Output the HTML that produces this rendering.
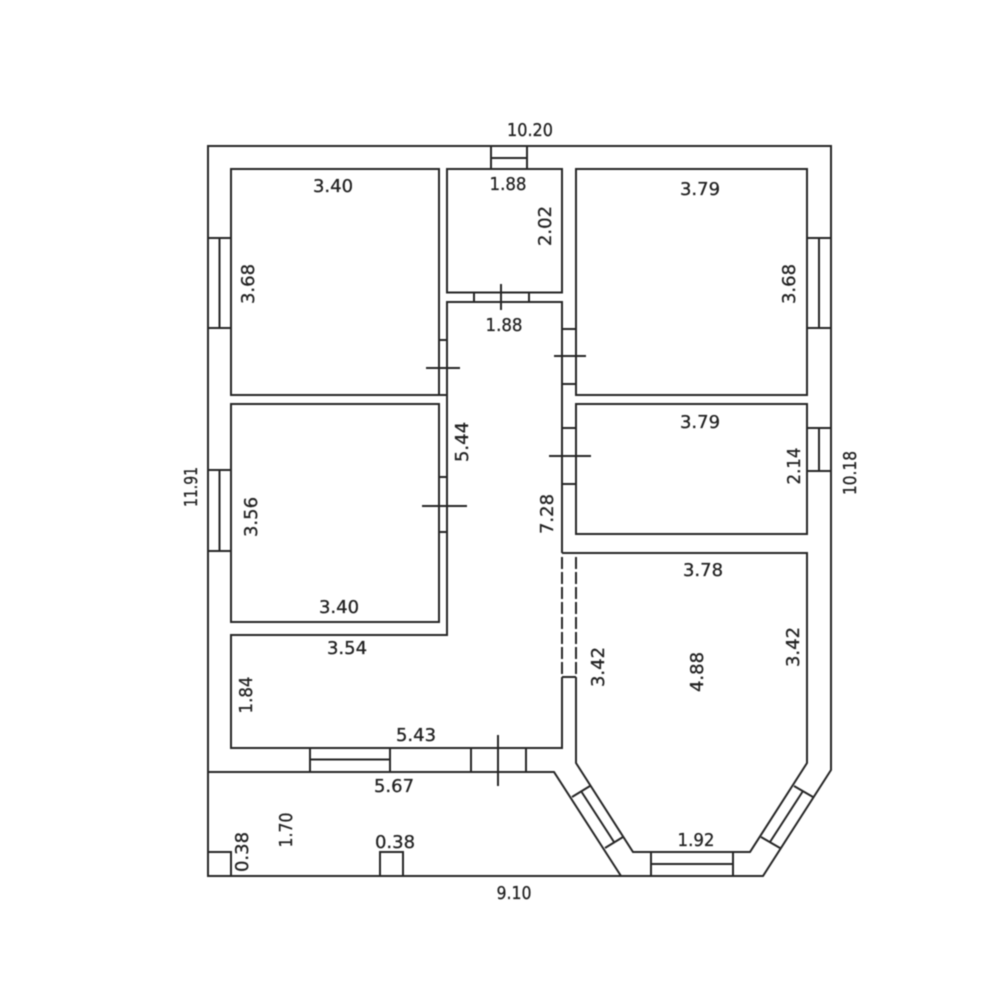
<!DOCTYPE html>
<html>
<head>
<meta charset="utf-8">
<style>
html,body{margin:0;padding:0;background:#fff;width:1000px;height:1000px;overflow:hidden}
svg{display:block;filter:blur(.4px)}
.l{fill:none;stroke:#262626;stroke-width:2}
.t{font-family:"DejaVu Sans",sans-serif;font-size:18px;fill:#222;stroke:#222;stroke-width:.3;text-anchor:middle}
</style>
</head>
<body>
<svg width="1000" height="1000" viewBox="0 0 1000 1000" xmlns="http://www.w3.org/2000/svg">
<g class="l">
<!-- outer -->
<path d="M621 876H208V146H831V770L763 876H621"/>
<path d="M208 772H554L621 876"/>
<!-- rooms -->
<rect x="231" y="169" width="208" height="226"/>
<rect x="447" y="169" width="115" height="123.500"/>
<rect x="576" y="169" width="231" height="226"/>
<rect x="231" y="404" width="208" height="218"/>
<rect x="576" y="404" width="231" height="130"/>
<path d="M439 395H447"/>
<!-- corridor -->
<path d="M562 553V302H447V635H231V748H562V677"/>
<path d="M562 553H807V763L750 852H633L576 763V677"/>
<path d="M562 557V677M576 557V677" stroke-dasharray="12 3"/>
<path d="M562 677H576"/>
<!-- windows -->
<path d="M491 146V169M527 146V169M491 158H527"/>
<path d="M208 238H231M208 328H231M219.500 238V328"/>
<path d="M807 238H831M807 328H831M819 238V328"/>
<path d="M807 428H831M807 471H831M819 428V471"/>
<path d="M208 470H231M208 551H231M219.500 470V551"/>
<path d="M310 748V771M390 748V771M310 759.500H390"/>
<path d="M651 852V876M733 852V876M651 864H733"/>
<path d="M572 797L590 786M605 848L623 837M581 791L614 842"/>
<path d="M794 786L813 797M761 837L780 848M803 791L770 842"/>
<!-- doors -->
<path d="M471 748V771M526 748V771M498 735V786"/>
<path d="M474 292V302M529 292V302M501 284V310"/>
<path d="M439 340H447M426 368H460"/>
<path d="M439 477H447M439 532H447M422 506H467"/>
<path d="M562 329H576M562 384H576M554 356H586"/>
<path d="M562 428H576M562 484H576M549 456H591"/>
<!-- small squares -->
<path d="M208 852H231V876"/>
<path d="M380 876V852H403V876"/>
</g>
<g class="t">
<text x="530" y="136" textLength="46" lengthAdjust="spacingAndGlyphs">10.20</text>
<text x="333" y="192">3.40</text>
<text x="508" y="190" textLength="37" lengthAdjust="spacingAndGlyphs">1.88</text>
<text x="700" y="195">3.79</text>
<text x="504" y="331" textLength="37" lengthAdjust="spacingAndGlyphs">1.88</text>
<text x="700" y="428">3.79</text>
<text x="339" y="613">3.40</text>
<text x="703" y="576">3.78</text>
<text x="347" y="654">3.54</text>
<text x="416" y="741">5.43</text>
<text x="394" y="792">5.67</text>
<text x="395" y="848">0.38</text>
<text x="696" y="846" textLength="37" lengthAdjust="spacingAndGlyphs">1.92</text>
<text x="514" y="899" textLength="35" lengthAdjust="spacingAndGlyphs">9.10</text>
<text transform="translate(551 226) rotate(-90)">2.02</text>
<text transform="translate(254 284) rotate(-90)">3.68</text>
<text transform="translate(795 284) rotate(-90)">3.68</text>
<text transform="translate(468 442) rotate(-90)">5.44</text>
<text transform="translate(800 466) rotate(-90)" textLength="37" lengthAdjust="spacingAndGlyphs">2.14</text>
<text transform="translate(856 473) rotate(-90)" textLength="44" lengthAdjust="spacingAndGlyphs">10.18</text>
<text transform="translate(197 487) rotate(-90)" textLength="40" lengthAdjust="spacingAndGlyphs">11.91</text>
<text transform="translate(257 517) rotate(-90)">3.56</text>
<text transform="translate(553 514) rotate(-90)">7.28</text>
<text transform="translate(252 695) rotate(-90)" textLength="37" lengthAdjust="spacingAndGlyphs">1.84</text>
<text transform="translate(604 667) rotate(-90)">3.42</text>
<text transform="translate(703 672) rotate(-90)">4.88</text>
<text transform="translate(799 647) rotate(-90)">3.42</text>
<text transform="translate(292 830) rotate(-90)" textLength="35" lengthAdjust="spacingAndGlyphs">1.70</text>
<text transform="translate(248 852) rotate(-90)">0.38</text>
</g>
</svg>
</body>
</html>
